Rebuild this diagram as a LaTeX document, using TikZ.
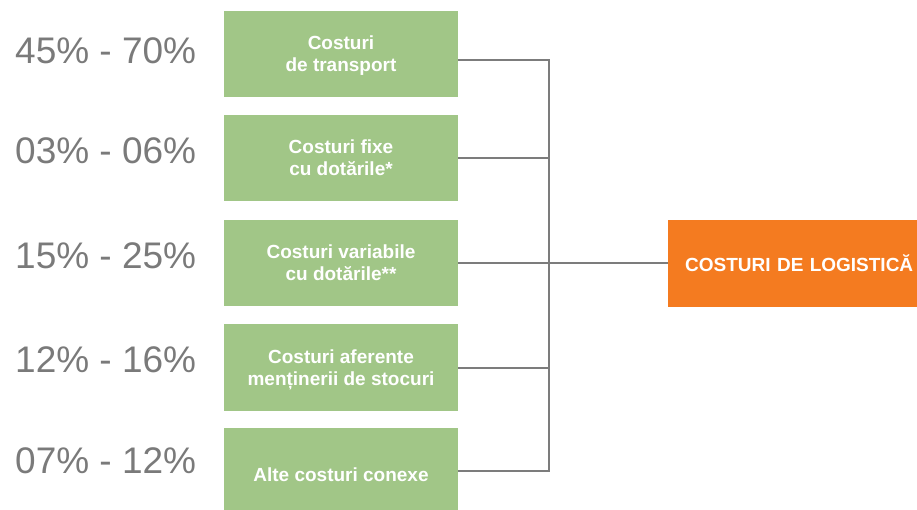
\documentclass[tikz,border=0pt]{standalone}
\usepackage{fontspec}
\setmainfont{Liberation Sans}
\usetikzlibrary{positioning}
\definecolor{boxgreen}{HTML}{A1C687}
\definecolor{logorange}{HTML}{F47B20}
\definecolor{pctgray}{HTML}{7A7A7A}
\definecolor{linegray}{HTML}{7C7C7C}

\tikzset{
	costbox/.style={rectangle,fill=boxgreen,text=white,inner sep=0pt,minimum width=234pt,minimum height=86pt,align=center,text depth=0pt,font=\bfseries\fontsize{19}{22}\selectfont},
	pct/.style={anchor=base west,inner sep=0pt,text=pctgray,font=\fontsize{37}{40}\selectfont},
	link/.style={draw=linegray,line width=2pt,line join=miter}
}

\begin{document}
\begin{tikzpicture}[x=1pt,y=-1pt]
	\useasboundingbox (0,0) rectangle (917,509);
	\clip (0,0) rectangle (917,509);
	% cost groups
	\node[costbox] (transport) at (341,54) {Costuri\\de transport};
	\node[costbox] (fixe) at (341,158) {Costuri fixe\\cu dotările*};
	\node[costbox] (variabile) at (341,263) {Costuri variabile\\cu dotările**};
	\node[costbox,minimum height=87pt] (stocuri) at (341,367.5) {Costuri aferente\\menținerii de stocuri};
	\node[costbox,minimum height=94pt] (conexe) at (341,475) {Alte costuri conexe};
	% shares
	\node[pct] (pTransport) at (15,63) {45\% - 70\%};
	\node[pct] (pFixe) at (15,163) {03\% - 06\%};
	\node[pct] (pVariabile) at (15,268) {15\% - 25\%};
	\node[pct] (pStocuri) at (15,372) {12\% - 16\%};
	\node[pct] (pConexe) at (15,473) {07\% - 12\%};
	% total
	\node[fill=logorange,text=white,anchor=west,inner xsep=17pt,inner ysep=0pt,minimum height=87pt,text width=243pt,align=left,font=\bfseries\fontsize{19}{22}\selectfont] (logistica) at (668,263) {COSTURI DE LOGISTICĂ};
	% bus
	\coordinate (bus) at (549,0);
	\coordinate (jTransport) at ([yshift=-6pt]transport.east);
	\coordinate (jConexe) at ([yshift=4pt]conexe.east);
	\draw[link] (jTransport) -- (jTransport -| bus) -- (jConexe -| bus) -- (jConexe);
	\draw[link] (fixe.east) -- (fixe.east -| bus);
	\draw[link] (stocuri.east) -- (stocuri.east -| bus);
	\draw[link] (variabile.east) -- (logistica.west);
\end{tikzpicture}
\end{document}
